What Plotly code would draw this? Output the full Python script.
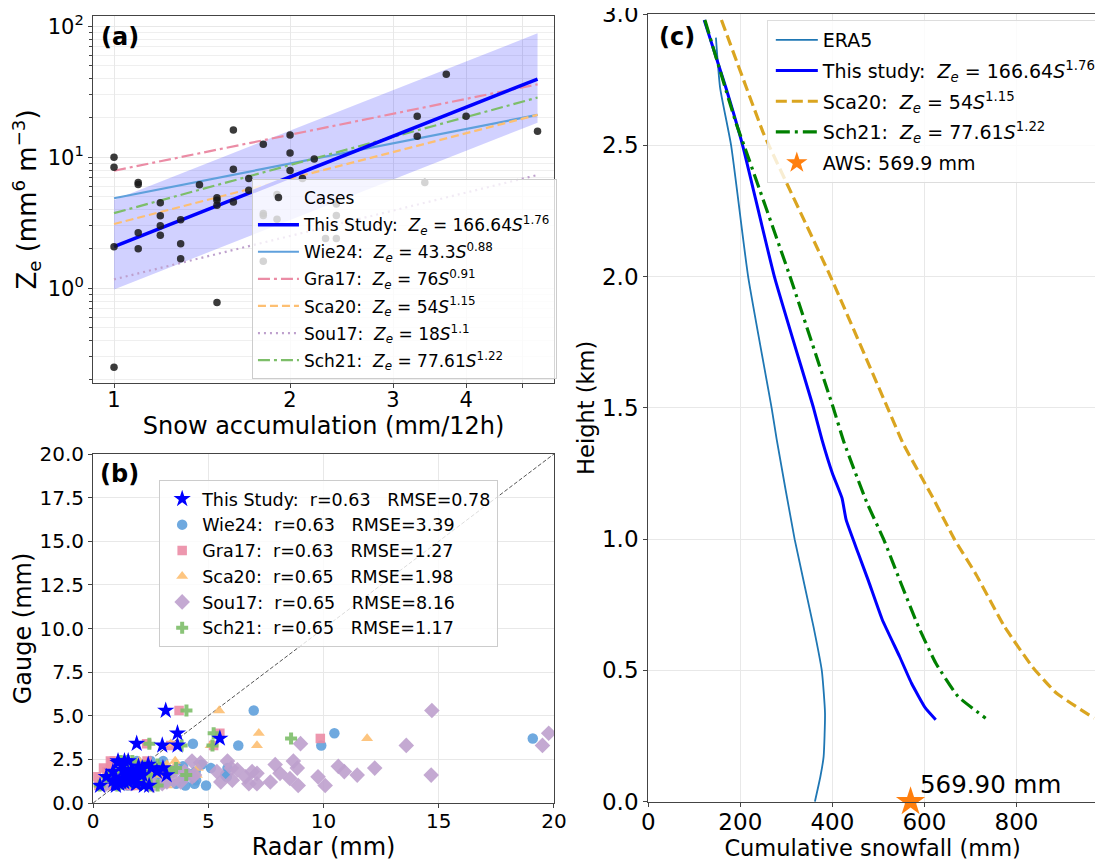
import plotly.graph_objects as go

FONT = "DejaVu Sans"
OFF = 8            # page offset of the plot div (default body margin)
W, H = 1095, 855

# ---------------- Panel (a) data ----------------
snow_acc = [1.0, 1.0, 1.0, 1.0, 1.1, 1.1, 1.1, 1.1, 1.2, 1.2, 1.2, 1.2, 1.3, 1.3, 1.3, 1.4,
            1.5, 1.5, 1.5, 1.5, 1.6, 1.6, 1.6, 1.7, 1.7, 1.8, 1.8, 1.8, 1.8, 1.9, 1.9,
            2.0, 2.0, 2.0, 2.1, 2.2, 2.3, 2.4, 2.4, 2.4, 3.3, 3.3, 3.4, 3.7, 4.0, 5.3]
ze_cases = [10.0, 8.4, 2.08, 0.25, 6.43, 6.2, 2.66, 2.0, 4.5, 3.58, 3.0, 2.54, 3.33, 2.19, 1.68, 6.17,
            4.92, 4.7, 4.3, 0.78, 16.2, 8.1, 4.56, 6.9, 5.6, 12.6, 3.73, 3.6, 1.61, 5.2, 3.37,
            14.8, 10.8, 7.94, 6.9, 9.7, 2.4, 4.4, 3.6, 2.4, 20.6, 14.5, 6.43, 43.0, 20.6, 15.8]

fit_s = [1.0, 5.3]
this_fit = [2.08, 39.6]
wie24_fit = [4.87, 21.1]
gra17_fit = [7.9, 36.1]
sca20_fit = [3.1, 21.1]
sou17_fit = [1.17, 7.33]
sch21_fit = [3.75, 28.6]
band_lo = [0.98, 18.4]
band_hi = [4.73, 88.5]

# ---------------- Panel (b) data ----------------
gauge = snow_acc
radar_this = [2.43, 2.20, 0.99, 0.30, 1.89, 1.85, 1.14, 0.97, 1.54, 1.35, 1.22, 1.11, 1.30, 1.02, 0.88, 1.84,
              1.62, 1.58, 1.50, 0.57, 3.19, 2.15, 1.55, 1.97, 1.75, 2.77, 1.39, 1.36, 0.86, 1.67, 1.31,
              3.03, 2.53, 2.13, 1.97, 2.39, 1.08, 1.52, 1.36, 1.08, 3.66, 3.00, 1.89, 5.50, 3.66, 3.15]
radar_wie24 = [4.9, 4.0, 1.5, 0.4, 4.4, 3.6, 1.7, 1.3, 2.8, 2.2, 1.9, 1.6, 4.47, 1.6, 1.2, 3.9,
               5.8, 3.1, 2.7, 0.8, 5.73, 4.2, 2.9, 4.1, 3.4, 4.45, 2.6, 2.3, 1.4, 3.5, 2.4,
               5.83, 5.11, 3.7, 3.9, 4.71, 1.9, 3.04, 2.5, 1.9, 9.9, 6.3, 4.33, 19.08, 10.47, 6.97]
radar_gra17 = [1.9, 1.6, 0.7, 0.25, 1.4, 1.3, 0.9, 0.75, 1.2, 1.0, 0.95, 0.85, 1.1, 0.8, 0.7, 1.5,
               1.3, 1.25, 1.15, 0.14, 3.1, 1.8, 1.2, 1.6, 1.4, 2.6, 1.1, 1.05, 0.6, 1.3, 0.75,
               2.9, 2.2, 0.45, 1.6, 2.1, 0.8, 2.34, 0.92, 0.75, 5.23, 3.37, 2.32, 9.86, 5.5, 3.73]
radar_sca20 = [3.2, 2.8, 1.1, 0.3, 2.5, 2.4, 1.4, 1.1, 1.9, 1.7, 1.5, 1.3, 1.6, 1.2, 1.0, 2.3,
               2.0, 1.9, 1.8, 0.6, 4.5, 2.8, 1.9, 2.5, 2.2, 3.9, 1.7, 1.7, 1.0, 2.1, 1.6,
               4.54, 3.5, 2.8, 2.6, 3.2, 1.3, 3.56, 2.0, 1.3, 7.11, 5.1, 3.37, 11.89, 7.19, 5.47]
radar_sou17 = [10.07, 8.9, 2.6, 0.5, 7.11, 6.76, 3.0, 2.4, 7.69, 5.54, 3.8, 3.2, 6.04, 3.5, 2.5, 8.54,
               9.76, 6.61, 4.3, 1.1, 14.67, 11.46, 4.4, 8.11, 7.11, 10.9, 6.9, 5.37, 3.97, 6.26, 3.6,
               12.22, 8.86, 6.0, 10.64, 7.9, 4.66, 8.69, 5.83, 4.29, 19.5, 13.59, 9.0, 31.0, 19.77, 14.7]
radar_sch21 = [2.8, 2.5, 1.05, 0.28, 2.1, 2.05, 1.25, 1.0, 1.7, 1.5, 1.35, 1.2, 1.45, 1.1, 0.95, 2.05,
               1.8, 1.75, 1.65, 0.6, 4.04, 2.45, 1.72, 2.2, 1.95, 3.3, 1.55, 1.5, 0.92, 1.85, 1.45,
               3.6, 2.9, 2.4, 2.2, 2.8, 1.2, 1.7, 1.5, 1.2, 5.18, 3.84, 2.44, 8.59, 5.23, 4.05]
one_to_one = [0, 20]

# ---------------- Panel (c) data ----------------
era5_x = [147, 156, 180, 217, 268, 279, 318, 359, 377, 384, 381, 374, 362]
era5_h = [2.91, 2.72, 2.50, 2.00, 1.50, 1.38, 1.00, 0.667, 0.50, 0.338, 0.172, 0.096, 0.0]
thisc_x = [121.5, 168, 205, 274, 359, 377.5, 400, 421, 430, 456, 478.6, 508.5, 546, 572, 602, 624.6]
thisc_h = [2.977, 2.723, 2.50, 2.00, 1.50, 1.378, 1.251, 1.156, 1.073, 0.947, 0.84, 0.693, 0.553, 0.451, 0.357, 0.312]
sca20c_x = [159, 250.4, 262, 396, 520, 553.5, 617, 666, 710.7, 774, 834, 886.6, 968.6]
sca20c_h = [2.977, 2.545, 2.50, 2.00, 1.50, 1.365, 1.162, 0.997, 0.87, 0.667, 0.515, 0.414, 0.318]
sch21c_x = [123, 191, 208, 308, 402, 426, 474.8, 512, 549, 587, 624.6, 673, 733]
sch21c_h = [2.977, 2.583, 2.50, 2.00, 1.50, 1.365, 1.14, 0.997, 0.832, 0.667, 0.528, 0.401, 0.318]
aws_x = [569.9]
aws_h = [0.0]

# colours
C_WIE = "#5fa0dc"
C_GRA = "#eb8ca5"
C_SCA = "#fdbf72"
C_SOU = "#bea0cd"
C_SCH = "#7dbe69"

NB = "\u00a0"


def ze_label(name, a, b):
    return (name + ":" + NB + NB + "<i>Z<sub>e</sub></i>" + NB + "=" + NB + a
            + "<i>S</i><sup>" + b + "</sup>")


fig = go.Figure()

# ---- (a)
fig.add_trace(go.Scatter(x=fit_s + fit_s[::-1], y=band_hi + band_lo[::-1], fill="toself",
                         fillcolor="rgba(0,0,255,0.18)", line=dict(width=0), mode="lines",
                         showlegend=False, xaxis="x", yaxis="y", hoverinfo="skip"))
lines_a = [
    ("Wie24", "43.3", "0.88", wie24_fit, C_WIE, "solid", 2.2, 3),
    ("Gra17", "76", "0.91", gra17_fit, C_GRA, "12px,4px,3px,4px", 2.2, 4),
    ("Sca20", "54", "1.15", sca20_fit, C_SCA, "8px,4px", 2.2, 5),
    ("Sou17", "18", "1.1", sou17_fit, C_SOU, "2px,4px", 2.2, 6),
    ("Sch21", "77.61", "1.22", sch21_fit, C_SCH, "12px,4px,3px,4px", 2.2, 7),
]
for nm, a, b, yv, col, dash, lw, rk in lines_a:
    fig.add_trace(go.Scatter(x=fit_s, y=yv, mode="lines", name=ze_label(nm, a, b),
                             line=dict(color=col, width=lw, dash=dash), legend="legend",
                             legendgroup="a" + str(rk), legendrank=rk, xaxis="x", yaxis="y"))
fig.add_trace(go.Scatter(x=fit_s, y=this_fit, mode="lines",
                         name=ze_label("This" + NB + "Study", "166.64", "1.76"),
                         line=dict(color="#0000ff", width=3.5), legend="legend",
                         legendgroup="a2", legendrank=2, xaxis="x", yaxis="y"))
fig.add_trace(go.Scatter(x=snow_acc, y=ze_cases, mode="markers", name="Cases",
                         marker=dict(color="rgba(25,25,25,0.85)", size=7.5), legend="legend",
                         legendgroup="a1", legendrank=1, xaxis="x", yaxis="y"))

# ---- (b)
fig.add_trace(go.Scatter(x=one_to_one, y=one_to_one, mode="lines", showlegend=False,
                         line=dict(color="#555555", width=1, dash="4px,2px"),
                         xaxis="x2", yaxis="y2", hoverinfo="skip"))
pts_b = [
    ("Wie24:" + NB * 2 + "r=0.63" + NB * 3 + "RMSE=3.39", radar_wie24, C_WIE, "circle", 10.5, 2),
    ("Gra17:" + NB * 2 + "r=0.63" + NB * 3 + "RMSE=1.27", radar_gra17, C_GRA, "square", 9.5, 3),
    ("Sca20:" + NB * 2 + "r=0.65" + NB * 3 + "RMSE=1.98", radar_sca20, C_SCA, "triangle-up", 10.5, 4),
    ("Sou17:" + NB * 2 + "r=0.65" + NB * 3 + "RMSE=8.16", radar_sou17, C_SOU, "diamond", 12, 5),
    ("Sch21:" + NB * 2 + "r=0.65" + NB * 3 + "RMSE=1.17", radar_sch21, C_SCH, "cross", 10, 6),
]
for nm, xv, col, sym, sz, rk in pts_b:
    fig.add_trace(go.Scatter(x=xv, y=gauge, mode="markers", name=nm,
                             marker=dict(color=col, symbol=sym, size=sz, opacity=0.9),
                             legend="legend2", legendgroup="b" + str(rk), legendrank=rk,
                             xaxis="x2", yaxis="y2"))
fig.add_trace(go.Scatter(x=radar_this, y=gauge, mode="markers",
                         name="This" + NB + "Study:" + NB * 2 + "r=0.63" + NB * 3 + "RMSE=0.78",
                         marker=dict(color="#0000ff", symbol="star", size=13),
                         legend="legend2", legendgroup="b1", legendrank=1, xaxis="x2", yaxis="y2"))

# ---- (c)
fig.add_trace(go.Scatter(x=era5_x, y=era5_h, mode="lines", name="ERA5",
                         line=dict(color="#1f77b4", width=1.8, shape="spline", smoothing=0.5),
                         legend="legend3", legendgroup="c1", legendrank=1, xaxis="x3", yaxis="y3"))
fig.add_trace(go.Scatter(x=thisc_x, y=thisc_h, mode="lines",
                         name=ze_label("This" + NB + "study", "166.64", "1.76"),
                         line=dict(color="#0000ff", width=3, shape="spline", smoothing=0.4),
                         legend="legend3", legendgroup="c2", legendrank=2, xaxis="x3", yaxis="y3"))
fig.add_trace(go.Scatter(x=sca20c_x, y=sca20c_h, mode="lines", name=ze_label("Sca20", "54", "1.15"),
                         line=dict(color="#daa520", width=3.2, dash="11px,5px", shape="spline", smoothing=0.4),
                         legend="legend3", legendgroup="c3", legendrank=3, xaxis="x3", yaxis="y3"))
fig.add_trace(go.Scatter(x=sch21c_x, y=sch21c_h, mode="lines", name=ze_label("Sch21", "77.61", "1.22"),
                         line=dict(color="#008000", width=3.2, dash="14px,5px,3px,5px",
                                   shape="spline", smoothing=0.4),
                         legend="legend3", legendgroup="c4", legendrank=4, xaxis="x3", yaxis="y3"))
fig.add_trace(go.Scatter(x=aws_x, y=aws_h, mode="markers", name="AWS:" + NB + "569.9" + NB + "mm",
                         marker=dict(color="#ff7f0e", symbol="star", size=22), cliponaxis=False,
                         legend="legend3", legendgroup="c5", legendrank=5, xaxis="x3", yaxis="y3"))

GRID = "#e8e8e8"
MINOR = "#efefef"
SPINE = "#444444"


def px_x(p):
    return (p - OFF) / W


def px_y(p):
    return 1 - (p - OFF) / H


common = dict(showline=True, linecolor=SPINE, linewidth=1.2, ticks="outside", ticklen=4,
              tickcolor=SPINE, gridcolor=GRID, gridwidth=1, zeroline=False, automargin=False,
              ticklabeloverflow="allow")

minor_y = [v * m for m in (0.1, 1, 10) for v in range(2, 10)]

fig.update_layout(
    width=W, height=H, margin=dict(l=0, r=0, t=0, b=0), autosize=False,
    paper_bgcolor="white", plot_bgcolor="white",
    font=dict(family=FONT, color="black"),
    showlegend=True,
    xaxis=dict(type="log", domain=[px_x(93.6), px_x(557)], range=[-0.0357, 0.7524],
               tickvals=[1, 2, 3, 4, 5], ticktext=["1", "2", "3", "4", ""], mirror=True,
               tickfont=dict(size=21), anchor="y", ticklabelstandoff=-6,
               title=dict(text="Snow accumulation (mm/12h)", font=dict(size=24), standoff=0), **common),
    yaxis=dict(type="log", domain=[px_y(383), px_y(16)], range=[-0.723, 2.079],
               tickvals=[1, 10, 100], ticktext=["10<sup>0</sup>", "10<sup>1</sup>", "10<sup>2</sup>"],
               mirror=True, tickfont=dict(size=21), anchor="x",
               minor=dict(tickvals=minor_y, ticks="outside", ticklen=3, tickcolor=SPINE,
                          showgrid=True, gridcolor=MINOR),
               title=dict(text="Z<sub>e</sub> (mm<sup>6</sup> m<sup>\u22123</sup>)", font=dict(size=26),
                          standoff=8),
               **common),
    xaxis2=dict(domain=[px_x(93.6), px_x(557)], range=[0, 20], dtick=5, mirror=True,
                tickfont=dict(size=20), anchor="y2", ticklabelstandoff=-4,
                title=dict(text="Radar (mm)", font=dict(size=24), standoff=2), **common),
    yaxis2=dict(domain=[px_y(803), px_y(454)], range=[0, 20], dtick=2.5, tickformat=".1f", mirror=True,
                tickfont=dict(size=20), anchor="x2",
                title=dict(text="Gauge (mm)", font=dict(size=24), standoff=1), **common),
    xaxis3=dict(domain=[px_x(651.8), 1.0], range=[0, 975], dtick=200, mirror=True,
                tickfont=dict(size=23), anchor="y3", ticklabelstandoff=-4,
                title=dict(text="Cumulative snowfall (mm)", font=dict(size=22.5), standoff=1), **common),
    yaxis3=dict(domain=[px_y(801.7), px_y(14)], range=[0, 3], dtick=0.5, tickformat=".1f", mirror=False,
                tickfont=dict(size=23), anchor="x3",
                title=dict(text="Height (km)", font=dict(size=22.5), standoff=1), **common),
    legend=dict(x=px_x(253.3), y=px_y(179), xanchor="left", yanchor="top",
                bgcolor="rgba(255,255,255,0.78)", bordercolor="#cccccc", borderwidth=1,
                font=dict(size=17, family=FONT), tracegroupgap=2, itemwidth=41, traceorder="grouped"),
    legend2=dict(x=px_x(160), y=px_y(480), xanchor="left", yanchor="top",
                 bgcolor="rgba(255,255,255,0.8)", bordercolor="#cccccc", borderwidth=1,
                 font=dict(size=17.5, family=FONT), tracegroupgap=0, itemwidth=30, indentation=2,
                 traceorder="grouped"),
    legend3=dict(x=px_x(771), y=px_y(20), xanchor="left", yanchor="top",
                 bgcolor="rgba(255,255,255,0.8)", bordercolor="#dddddd", borderwidth=1,
                 font=dict(size=19, family=FONT), tracegroupgap=3, itemwidth=42, indentation=3,
                 traceorder="grouped"),
    annotations=[
        dict(text="<b>(a)</b>", x=px_x(121), y=px_y(37), xref="paper", yref="paper",
             showarrow=False, font=dict(size=24, family=FONT), xanchor="center", yanchor="middle"),
        dict(text="<b>(b)</b>", x=px_x(120), y=px_y(474), xref="paper", yref="paper",
             showarrow=False, font=dict(size=24, family=FONT), xanchor="center", yanchor="middle"),
        dict(text="<b>(c)</b>", x=px_x(681), y=px_y(37), xref="paper", yref="paper",
             showarrow=False, font=dict(size=24, family=FONT), xanchor="center", yanchor="middle"),
        dict(text="569.90 mm", x=px_x(923), y=px_y(784), xref="paper", yref="paper",
             showarrow=False, font=dict(size=24.5, family=FONT), xanchor="left", yanchor="middle"),
    ],
)

fig.write_html("out.html")
